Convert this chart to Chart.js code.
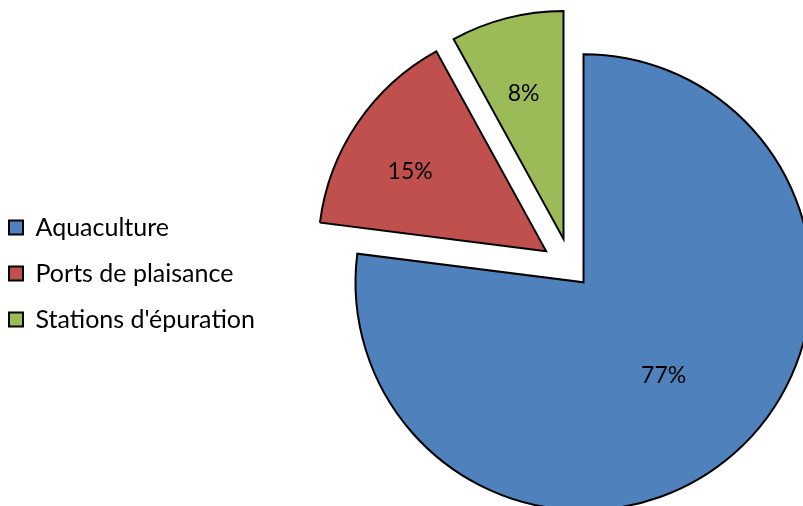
<!DOCTYPE html>
<html>
<head>
<meta charset="utf-8">
<script src="https://cdn.jsdelivr.net/npm/chart.js@4.4.0/dist/chart.umd.min.js"></script>
<style>
  html, body { margin: 0; padding: 0; background: #fff; overflow: hidden; }
  /* the pie runs off the right and bottom edges of the window, as in the original */
  #wrap { width: 803px; height: 506px; overflow: hidden; }
</style>
</head>
<body>
<div id="wrap"><canvas id="pie-chart" width="877" height="536"></canvas></div>
<script>
var categories = ["Aquaculture", "Ports de plaisance", "Stations d'épuration"];
var shares = [77, 15, 8];
var sliceColors = ["#4F81BD", "#C0504D", "#9BBB59"];

// how far each slice is pulled out (px), where its label sits (fraction of radius)
// and a small turn of the label off the slice's middle (degrees)
var explode = [19, 30, 30];
var labelRadius = [0.54, 0.69, 0.66];
var labelTurn = [0.8, -4, -1];

var fontFamily = "Lato, 'Open Sans', sans-serif";

var explodePlugin = {
  id: "explode",
  afterDatasetUpdate: function (chart, args) {
    args.meta.data.forEach(function (arc, i) {
      var mid = (arc.startAngle + arc.endAngle) / 2;
      arc.x += Math.cos(mid) * explode[i];
      arc.y += Math.sin(mid) * explode[i];
    });
  },
  afterDatasetsDraw: function (chart) {
    var ctx = chart.ctx;
    var total = shares.reduce(function (a, b) { return a + b; }, 0);
    ctx.save();
    ctx.font = "23px " + fontFamily;
    ctx.fillStyle = "#000";
    ctx.textAlign = "center";
    ctx.textBaseline = "middle";
    chart.getDatasetMeta(0).data.forEach(function (arc, i) {
      var a = (arc.startAngle + arc.endAngle) / 2 + (labelTurn[i] * Math.PI) / 180;
      var r = arc.outerRadius * labelRadius[i];
      var pct = Math.round((shares[i] / total) * 100) + "%";
      ctx.fillText(pct, arc.x + Math.cos(a) * r, arc.y + Math.sin(a) * r);
    });
    ctx.restore();
  },
};

var ctx = document.getElementById("pie-chart").getContext("2d");
new Chart(ctx, {
  type: "pie",
  data: {
    labels: categories,
    datasets: [
      {
        data: shares,
        backgroundColor: sliceColors,
        borderColor: "#000",
        borderWidth: 2,
        borderJoinStyle: "miter",
      },
    ],
  },
  options: {
    responsive: false,
    animation: false,
    events: [],
    radius: 228,
    layout: {
      padding: { left: -12, right: 0, top: 0, bottom: 0 },
    },
    plugins: {
      legend: {
        position: "left",
        title: { display: true, text: "", font: { size: 10, lineHeight: 1 }, padding: { top: 0, bottom: 1 } },
        labels: {
          boxWidth: 14,
          boxHeight: 14,
          padding: 21,
          color: "#000",
          font: { family: fontFamily, size: 25 },
        },
      },
      tooltip: { enabled: false },
    },
  },
  plugins: [explodePlugin],
});
</script>
</body>
</html>
